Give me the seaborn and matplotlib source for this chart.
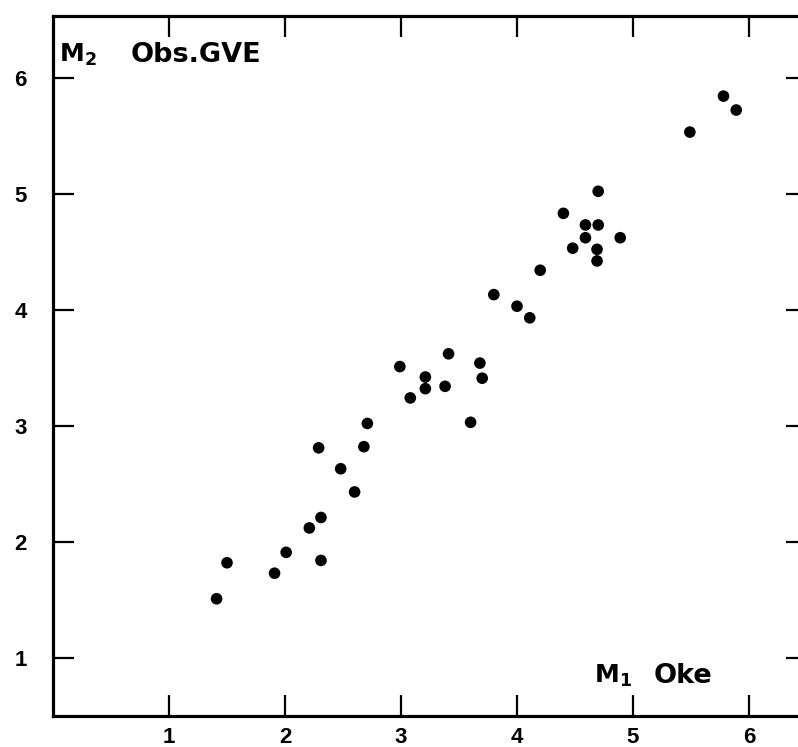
import matplotlib
matplotlib.use("Agg")
import matplotlib.pyplot as plt
import seaborn as sns
import pandas as pd

# Magnitudes: M1 from Oke vs M2 observed (GVE)
m1_oke = [1.41, 1.50, 1.91, 2.01, 2.21, 2.31, 2.31, 2.29, 2.48, 2.60,
          2.68, 2.71, 2.99, 3.08, 3.21, 3.21, 3.38, 3.41, 3.60, 3.68,
          3.70, 3.80, 4.00, 4.11, 4.20, 4.40, 4.48, 4.59, 4.70, 4.59,
          4.70, 4.69, 4.69, 4.89, 5.49, 5.78, 5.89]
m2_obs = [1.51, 1.82, 1.73, 1.91, 2.12, 2.21, 1.84, 2.81, 2.63, 2.43,
          2.82, 3.02, 3.51, 3.24, 3.42, 3.32, 3.34, 3.62, 3.03, 3.54,
          3.41, 4.13, 4.03, 3.93, 4.34, 4.83, 4.53, 4.73, 4.73, 4.62,
          5.02, 4.52, 4.42, 4.62, 5.53, 5.84, 5.72]
tick_values = [1, 2, 3, 4, 5, 6]
tick_labels = ["1", "2", "3", "4", "5", "6"]

df = pd.DataFrame({"M1": m1_oke, "M2": m2_obs})

sns.set_style("ticks")
plt.rcParams["font.family"] = ["DejaVu Sans"]
plt.rcParams["text.color"] = "black"
plt.rcParams["xtick.color"] = "black"
plt.rcParams["ytick.color"] = "black"

W, H = 798, 747
fig = plt.figure(figsize=(W / 100, H / 100), dpi=100)
ax = fig.add_axes([53 / W, (H - 716) / H, (807 - 53) / W, (716 - 16) / H])

sns.scatterplot(data=df, x="M1", y="M2", ax=ax, color="black",
                s=70, edgecolor="none", legend=False)

ax.set_xlim(0, 6.5)
ax.set_ylim(0.5, 6.53)
ax.set_xlabel("")
ax.set_ylabel("")

ax.set_xticks(tick_values)
ax.set_xticklabels(tick_labels)
ax.set_yticks(tick_values)
ax.set_yticklabels(tick_labels)

for side in ["left", "bottom", "top", "right"]:
    ax.spines[side].set_visible(True)
    ax.spines[side].set_linewidth(2.3)
    ax.spines[side].set_color("black")

ax.tick_params(axis="both", which="major", direction="in", length=15,
               width=1.6, color="black", labelcolor="black", top=True,
               right=True, labelsize=16)
ax.tick_params(axis="x", pad=8)
ax.tick_params(axis="y", pad=19)
for lab in ax.get_xticklabels() + ax.get_yticklabels():
    lab.set_fontweight("bold")
    lab.set_family("Liberation Sans")


def pix_text(x, y, s, size=18):
    # place text in pixel coordinates measured from the top-left corner
    fig.text(x / W, 1 - y / H, s, fontsize=size, fontweight="bold",
             ha="left", va="baseline", color="black", family="DejaVu Sans")


# Axis titles drawn inside the frame
pix_text(59, 62, r"M$_{\mathregular{2}}$")
pix_text(131, 62, "Obs.GVE", size=19.5)
pix_text(594, 683, r"M$_{\mathregular{1}}$")
pix_text(654, 683, "Oke", size=19.5)

fig.savefig("out.png", dpi=100)
